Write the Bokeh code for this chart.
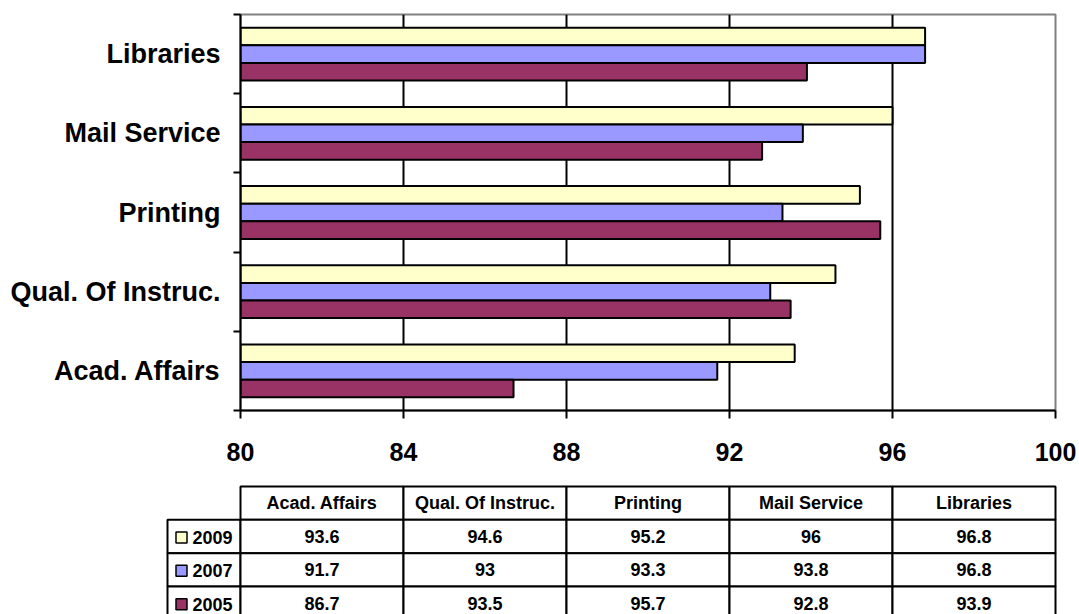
from bokeh.plotting import figure
from bokeh.models import FixedTicker, Range1d
from bokeh.core.properties import value
from bokeh.embed import file_html
from bokeh.resources import INLINE

# ---- data -------------------------------------------------------------
categories = ["Acad. Affairs", "Qual. Of Instruc.", "Printing", "Mail Service", "Libraries"]
series_names = ["2009", "2007", "2005"]
values_2009 = [93.6, 94.6, 95.2, 96, 96.8]
values_2007 = [91.7, 93, 93.3, 93.8, 96.8]
values_2005 = [86.7, 93.5, 95.7, 92.8, 93.9]
x_ticks = [80, 84, 88, 92, 96, 100]

series_values = [values_2009, values_2007, values_2005]
series_colors = ["#FFFFCC", "#9999FF", "#993366"]

FONT = "Liberation Sans"
W = 1079
X0, X1 = x_ticks[0], x_ticks[-1]
LEFT, RIGHT = 240, 24
PX = (W - LEFT - RIGHT) / (X1 - X0)   # pixels per x unit

# ---- bar chart --------------------------------------------------------
p = figure(width=W, height=480, x_range=Range1d(X0, X1), y_range=Range1d(0, len(categories)),
           output_backend="svg", toolbar_location=None,
           min_border_left=LEFT, min_border_right=RIGHT, min_border_top=14, min_border_bottom=70)
p.background_fill_color = "white"
p.border_fill_color = "white"
p.outline_line_color = "#808080"
p.outline_line_width = 2

n_series = len(series_names)
bar_h = 1.0 / (n_series + 1.5)
for k, (vals, col) in enumerate(zip(series_values, series_colors)):
    offset = (1 - k) * bar_h
    ys = [i + 0.5 + offset for i in range(len(categories))]
    p.hbar(y=ys, left=X0, right=vals, height=bar_h, fill_color=col,
           line_color="black", line_width=2)

# x axis
p.xaxis.ticker = FixedTicker(ticks=x_ticks)
p.xaxis.axis_line_color = "black"
p.xaxis.axis_line_width = 2
p.xaxis.major_tick_line_width = 2
p.xaxis.major_tick_line_color = "black"
p.xaxis.major_tick_in = 0
p.xaxis.major_tick_out = 8
p.xaxis.minor_tick_line_color = None
p.xaxis.major_label_text_font = FONT
p.xaxis.major_label_text_font_style = "bold"
p.xaxis.major_label_text_font_size = "25px"
p.xaxis.major_label_text_color = "black"
p.xaxis.major_label_standoff = 24

# y axis: labels centred on categories, tick marks on boundaries
centers = [i + 0.5 for i in range(len(categories))]
p.yaxis.ticker = FixedTicker(ticks=centers, minor_ticks=list(range(len(categories) + 1)))
p.yaxis.major_label_overrides = {c: name for c, name in zip(centers, categories)}
p.yaxis.axis_line_color = "black"
p.yaxis.axis_line_width = 2
p.yaxis.major_tick_line_color = None
p.yaxis.major_tick_in = 0
p.yaxis.major_tick_out = 0
p.yaxis.minor_tick_line_color = "black"
p.yaxis.minor_tick_line_width = 2
p.yaxis.minor_tick_in = 0
p.yaxis.minor_tick_out = 7
p.yaxis.major_label_text_font = FONT
p.yaxis.major_label_text_font_style = "bold"
p.yaxis.major_label_text_font_size = "27px"
p.yaxis.major_label_text_color = "black"
p.yaxis.major_label_standoff = 13

p.xgrid.ticker = FixedTicker(ticks=x_ticks[1:-1])
p.xgrid.grid_line_color = "black"
p.xgrid.grid_line_width = 2
p.ygrid.grid_line_color = None

# ---- data table -------------------------------------------------------
T_LEFT, T_RIGHT = 160, 19
tx0 = X0 - (LEFT - T_LEFT) / PX
tx1 = X1 + (RIGHT - T_RIGHT) / PX
t = figure(width=W, height=134, x_range=Range1d(tx0, tx1), y_range=Range1d(3.84, -0.18),
           x_axis_type=None, y_axis_type=None, output_backend="svg", toolbar_location=None,
           min_border_left=T_LEFT, min_border_right=T_RIGHT, min_border_top=0, min_border_bottom=0)
t.outline_line_color = None
t.xgrid.grid_line_color = None
t.ygrid.grid_line_color = None
t.border_fill_color = "white"

col_w = (X1 - X0) / len(categories)
col_left = [X0 + i * col_w for i in range(len(categories))]
col_right = [c + col_w for c in col_left]
col_mid = [c + col_w / 2 for c in col_left]
label_left = X0 - 73 / PX

# header cells
t.quad(left=col_left, right=col_right, top=0, bottom=1, fill_color="white",
       line_color="black", line_width=2)
t.text(x=col_mid, y=[0.5] * len(categories), text=categories, text_font=value(FONT),
       text_font_style="bold", text_font_size="18px", text_align="center",
       text_baseline="middle", text_color="black")

for r, (name, vals, colr) in enumerate(zip(series_names, series_values, series_colors)):
    top, bottom = r + 1, r + 2
    t.quad(left=[label_left] + col_left, right=[X0] + col_right, top=top, bottom=bottom,
           fill_color="white", line_color="black", line_width=2)
    t.text(x=col_mid, y=[r + 1.5] * len(vals), text=[f"{v:g}" for v in vals],
           text_font=value(FONT), text_font_style="bold", text_font_size="18px",
           text_align="center", text_baseline="middle", text_color="black")
    t.scatter(x=[X0 - 59 / PX], y=[r + 1.53], marker="square", size=11,
              fill_color=colr, line_color="black", line_width=1.5)
    t.text(x=[X0 - 48 / PX], y=[r + 1.53], text=[name], text_font=value(FONT),
           text_font_style="bold", text_font_size="18px", text_align="left",
           text_baseline="middle", text_color="black")

open("out.html", "w").write(file_html([p, t], INLINE))
